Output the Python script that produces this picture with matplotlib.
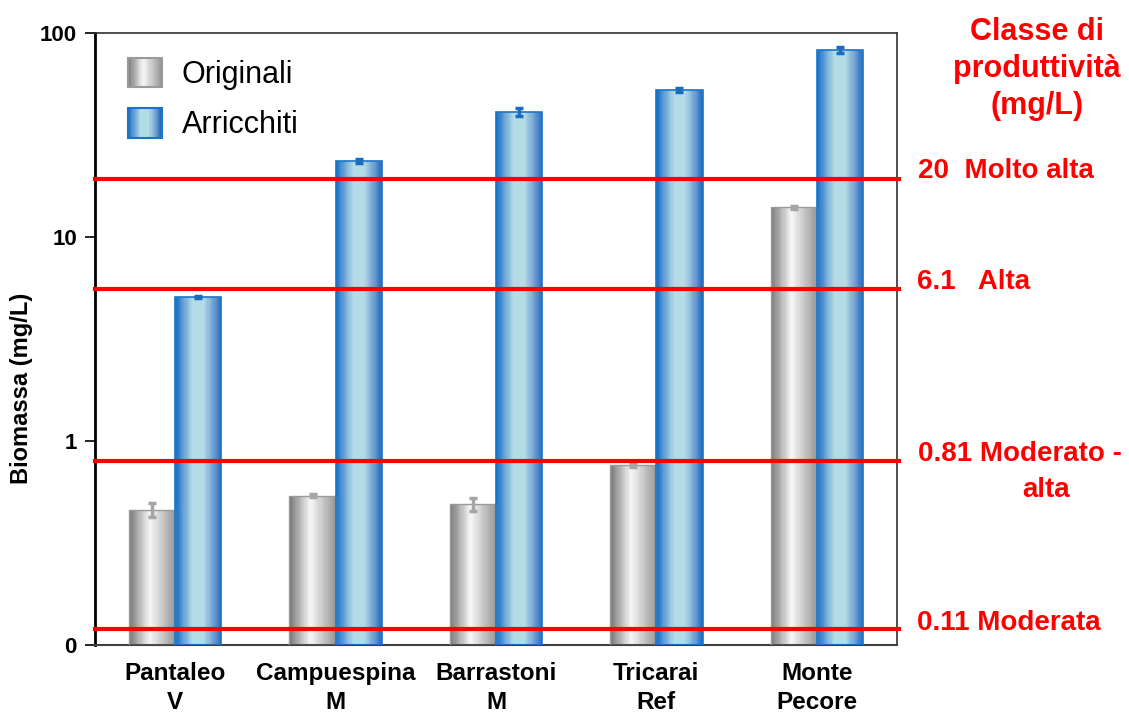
import numpy as np
import matplotlib
matplotlib.use("Agg")
import matplotlib.pyplot as plt
from matplotlib.colors import LinearSegmentedColormap
from matplotlib.patches import Rectangle
from matplotlib.legend_handler import HandlerBase

plt.rcParams['font.family'] = ['Liberation Sans', 'DejaVu Sans']

# data
sites = ["Pantaleo\nV", "Campuespina\nM", "Barrastoni\nM", "Tricarai\nRef", "Monte\nPecore"]
originali = [0.46, 0.54, 0.49, 0.76, 14.0]
originali_err = [0.037, 0.01, 0.035, 0.012, 0.25]
arricchiti = [5.1, 23.5, 41.0, 52.6, 82.5]
arricchiti_err = [0.06, 0.5, 1.9, 1.0, 2.5]

class_values = [19.2, 5.58, 0.80, 0.12]
class_labels = ["20  Molto alta", "6.1   Alta", "0.81 Moderato -", "0.11 Moderata"]

gray_cmap = LinearSegmentedColormap.from_list(
    "gray_grad", [(0, "#7a7a7a"), (0.45, "#f7f7f7"), (1, "#9a9a9a")])
blue_cmap = LinearSegmentedColormap.from_list(
    "blue_grad", [(0, "#1270c6"), (0.15, "#5f9bd3"), (0.38, "#b3dce6"),
                  (0.62, "#b3dce6"), (0.85, "#6b9dd0"), (1, "#2a6cc0")])

BASE = 0.1


def gradient_bar(ax, x_left, values, width, cmap, n=40):
    # draw bars as many thin strips so they get a horizontal shading
    step = width / n
    heights = np.asarray(values) - BASE
    for k in range(n):
        ax.bar(np.asarray(x_left) + k * step, heights, width=step * 1.08,
               bottom=BASE, align='edge', color=cmap(k / (n - 1)),
               linewidth=0, zorder=2)


class GradientHandler(HandlerBase):
    def __init__(self, cmap, edge):
        super().__init__()
        self.cmap = cmap
        self.edge = edge

    def create_artists(self, legend, orig_handle, xdescent, ydescent,
                       width, height, fontsize, trans):
        n = 30
        arts = []
        for k in range(n):
            arts.append(Rectangle((-xdescent + k * width / n, -ydescent),
                                  width / n * 1.1, height,
                                  facecolor=self.cmap(k / (n - 1)),
                                  edgecolor='none', transform=trans))
        arts.append(Rectangle((-xdescent, -ydescent), width, height,
                              facecolor='none', edgecolor=self.edge,
                              lw=1.5, transform=trans))
        return arts


def main():
    fig = plt.figure(figsize=(11.29, 7.13), dpi=100)
    ax = fig.add_axes([95 / 1129, 68 / 713, 802 / 1129, 612 / 713])

    x = np.arange(len(sites))
    w = 0.2875

    gradient_bar(ax, x - w, originali, w, gray_cmap)
    gradient_bar(ax, x, arricchiti, w, blue_cmap)
    # thin outlines
    ax.bar(x - w, np.asarray(originali) - BASE, width=w, bottom=BASE, align='edge',
           facecolor='none', edgecolor='#9a9a9a', linewidth=1, zorder=3)
    ax.bar(x, np.asarray(arricchiti) - BASE, width=w, bottom=BASE, align='edge',
           facecolor='none', edgecolor='#1a75c8', linewidth=1.2, zorder=3)

    ax.errorbar(x - w / 2, originali, yerr=originali_err, fmt='none',
                ecolor='#a6a6a6', elinewidth=2.5, capsize=3, capthick=2.5, zorder=4)
    ax.errorbar(x + w / 2, arricchiti, yerr=arricchiti_err, fmt='none',
                ecolor='#1a6cc0', elinewidth=2.5, capsize=3, capthick=2.5, zorder=4)

    for v in class_values:
        ax.axhline(v, xmin=0, xmax=1.002, color='#ff0000', lw=3, zorder=5,
                   clip_on=False)

    ax.set_yscale('log')
    ax.set_ylim(0.1, 100)
    ax.set_xlim(-0.5, len(sites) - 0.5)
    ax.set_yticks([0.1, 1, 10, 100])
    ax.set_yticklabels(['0', '1', '10', '100'], fontsize=16, fontweight='bold')
    ax.yaxis.set_minor_locator(matplotlib.ticker.NullLocator())
    ax.tick_params(axis='y', length=7, width=1.2, pad=6)
    ax.set_xticks(x)
    ax.set_xticklabels(sites, fontsize=17.5, fontweight='bold', linespacing=1.32)
    ax.tick_params(axis='x', length=0, pad=12.5)

    ax.set_ylabel('Biomassa (mg/L)', fontsize=17, fontweight='bold')
    ax.yaxis.set_label_coords(-0.077, 0.42)

    ax.spines['left'].set_linewidth(2)
    ax.spines['left'].set_color('black')
    ax.spines['bottom'].set_color('#404040')
    ax.spines['bottom'].set_linewidth(1.5)
    for s in ['top', 'right']:
        ax.spines[s].set_color('#303030')
        ax.spines[s].set_linewidth(1.2)

    h1 = Rectangle((0, 0), 1, 1)
    h2 = Rectangle((0, 0), 1, 1)
    ax.legend([h1, h2], ['Originali', 'Arricchiti'],
              handler_map={h1: GradientHandler(gray_cmap, '#9a9a9a'),
                           h2: GradientHandler(blue_cmap, '#1a75c8')},
              loc='upper left', bbox_to_anchor=(33 / 802, 1 - 25 / 612),
              frameon=False, fontsize=22, handlelength=1.1, handleheight=1.1,
              handletextpad=0.65, labelspacing=0.6, borderpad=0,
              borderaxespad=0)

    red = '#ff0000'
    fig.text(1037 / 1129, 1 - 69 / 713, "Classe di\nproduttività\n(mg/L)",
             ha='center', va='center', color=red, fontsize=22,
             fontweight='bold', linespacing=1.31)
    label_pos = [(918, 171), (917, 282), (918, 454), (917, 623)]
    for (px, py), lab in zip(label_pos, class_labels):
        fig.text(px / 1129, 1 - py / 713, lab, ha='left', va='center',
                 color=red, fontsize=20, fontweight='bold')
    fig.text(1022 / 1129, 1 - 490 / 713, "alta", ha='left', va='center',
             color=red, fontsize=20, fontweight='bold')

    fig.savefig('out.png', dpi=100)


if __name__ == '__main__':
    main()
